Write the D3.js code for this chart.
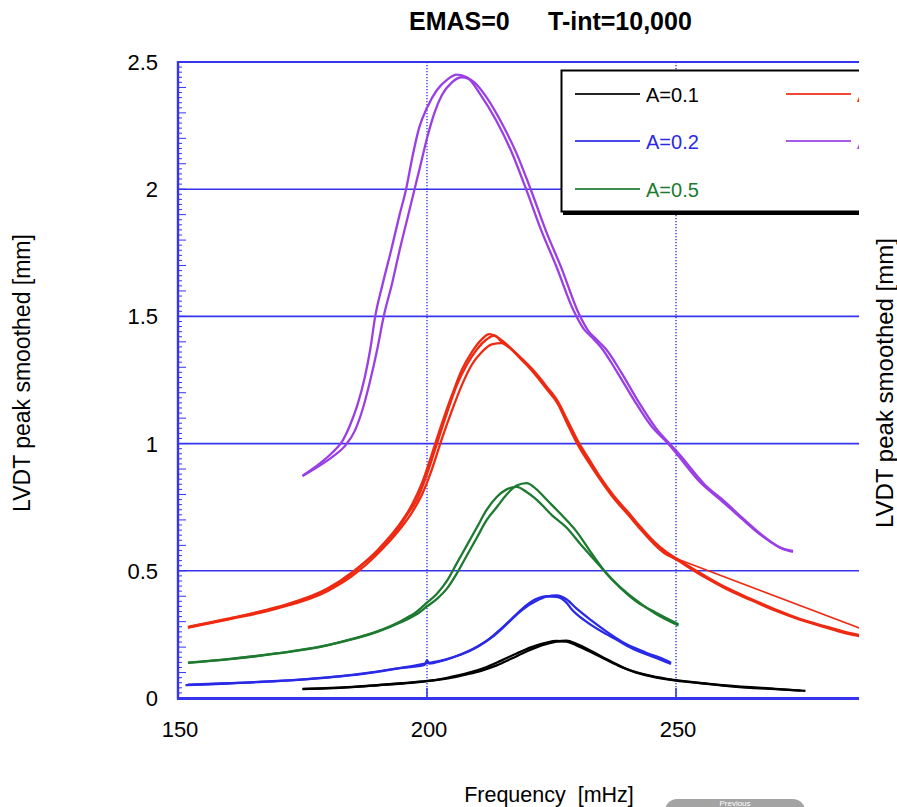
<!DOCTYPE html>
<html><head><meta charset="utf-8">
<script src="https://cdn.jsdelivr.net/npm/d3@7"></script>
<style>html,body{margin:0;padding:0;background:#fff;}svg{display:block;}</style>
</head><body>
<script>
// ---------------- DATA ----------------
const xTicks = [150, 200, 250];
const yTicks = [0, 0.5, 1, 1.5, 2, 2.5];
const yTickLabels = ["0", "0.5", "1", "1.5", "2", "2.5"];
const legendLabels = ["A=0.1", "A=0.2", "A=0.5", "A=1", "A=2"];
const titleParts = ["EMAS=0", "T-int=10,000"];

// A=0.1 sweeps [frequency mHz, LVDT mm]
const a01_sweep1 = [[175,0.035],[180,0.038],[185,0.043],[190,0.05],[195,0.057],[200,0.066],[203,0.075],[206,0.088],[209,0.103],[212,0.122],[215,0.148],[218,0.175],[221,0.2],[224,0.218],[226,0.224],[228,0.222],[230,0.207],[233,0.18],[236,0.15],[239,0.122],[242,0.1],[245,0.085],[250,0.068],[255,0.058],[260,0.048],[265,0.04],[270,0.035],[275,0.029]];
const a01_sweep2 = [[175,0.036],[185,0.044],[195,0.058],[200,0.067],[205,0.08],[208,0.093],[211,0.108],[214,0.128],[217,0.155],[220,0.183],[223,0.207],[226,0.222],[228,0.225],[230,0.213],[233,0.185],[236,0.153],[240,0.115],[245,0.087],[250,0.07],[260,0.05],[270,0.036],[276,0.028]];

// A=0.2 sweeps
const a02_sweep1 = [[151.5,0.051],[155,0.053],[160,0.057],[165,0.062],[170,0.066],[175,0.072],[180,0.08],[185,0.09],[190,0.103],[195,0.118],[199.5,0.13],[200,0.148],[200.5,0.135],[203,0.146],[206,0.165],[209,0.19],[212,0.225],[215,0.275],[218,0.33],[220,0.365],[222,0.39],[224,0.4],[226,0.398],[228,0.375],[229,0.35],[232,0.3],[235,0.262],[238,0.23],[241,0.197],[244,0.172],[247,0.15],[249,0.134]];
const a02_sweep2 = [[152,0.052],[160,0.058],[170,0.067],[180,0.081],[190,0.104],[196,0.122],[200,0.137],[204,0.153],[207,0.173],[210,0.2],[213,0.238],[216,0.29],[219,0.345],[222,0.382],[224,0.398],[226,0.403],[228,0.388],[230,0.352],[233,0.305],[236,0.262],[240,0.212],[244,0.178],[248,0.148],[249,0.138]];

// A=0.5 sweeps
const a05_sweep1 = [[152,0.138],[160,0.152],[170,0.175],[180,0.207],[185,0.232],[190,0.262],[195,0.305],[198,0.34],[200,0.375],[202,0.41],[204,0.46],[206,0.53],[208,0.6],[210,0.67],[212,0.74],[214,0.79],[216,0.82],[218,0.83],[220,0.81],[222,0.78],[225,0.72],[228,0.67],[231,0.6],[234,0.535],[237,0.47],[240,0.415],[243,0.37],[246,0.33],[250.5,0.285]];
const a05_sweep2 = [[152,0.139],[160,0.153],[170,0.176],[180,0.208],[190,0.26],[195,0.3],[198,0.33],[200,0.36],[202,0.39],[204,0.43],[206,0.49],[208,0.56],[210,0.63],[212,0.7],[214,0.75],[216,0.8],[218,0.835],[220,0.845],[222,0.82],[224,0.78],[227,0.72],[230,0.655],[233,0.57],[236,0.49],[239,0.43],[242,0.38],[246,0.335],[250.5,0.29]];

// A=1 sweeps
const a1_sweep1 = [[152,0.278],[155,0.29],[160,0.31],[165,0.332],[170,0.355],[175,0.385],[180,0.425],[185,0.49],[188,0.54],[191,0.59],[194,0.66],[196,0.72],[198,0.78],[200,0.88],[202,1.0],[204,1.12],[206,1.23],[208,1.31],[210,1.37],[212,1.41],[213.5,1.425],[215,1.4],[217,1.37],[219,1.33],[221.5,1.28],[224,1.22],[226.3,1.16],[228,1.09],[230.3,1.0],[232.5,0.93],[234.9,0.86],[237.5,0.79],[240.4,0.727],[243,0.665],[245.6,0.61],[248,0.57],[250.4,0.54],[255,0.483],[260,0.43],[265,0.385],[270,0.343],[275,0.307],[280,0.278],[285,0.25],[288,0.24]];
const a1_sweep2 = [[152,0.276],[160,0.308],[170,0.352],[180,0.42],[185,0.48],[190,0.565],[194,0.65],[197,0.73],[199,0.8],[201,0.9],[203,1.02],[205,1.13],[207,1.23],[209,1.31],[211,1.36],[213,1.39],[215,1.395],[217,1.37],[219,1.335],[221.5,1.285],[224,1.225],[226.3,1.165],[228,1.1],[230.3,1.01],[232.5,0.94],[234.9,0.865],[237.5,0.795],[240.4,0.73],[243,0.67],[245.6,0.615],[248,0.575],[250.4,0.545],[255,0.49],[260,0.435],[265,0.39],[270,0.348],[275,0.31],[280,0.282],[285,0.255],[288,0.243]];
const a1_sweep3 = [[152,0.28],[160,0.312],[170,0.358],[180,0.43],[185,0.495],[190,0.58],[194,0.67],[197,0.76],[199,0.845],[201,0.96],[203,1.08],[205,1.19],[207,1.29],[209,1.36],[211,1.41],[212.5,1.43],[214,1.42],[216,1.39],[218,1.35],[220,1.31],[222,1.265],[224,1.215],[226.3,1.155],[228,1.085],[230.3,0.995],[232.5,0.925],[234.9,0.855],[237.5,0.785],[240.4,0.72],[243,0.66],[245.6,0.605],[248,0.565],[250.4,0.545]];
const a1_tail = [[250.4,0.545],[300,0.178]];

// A=2 sweeps
const a2_sweep1 = [[175,0.873],[177,0.9],[179,0.93],[181,0.965],[183,1.01],[184.5,1.07],[186,1.15],[187.5,1.26],[188.6,1.37],[189.6,1.5],[191,1.62],[192.8,1.76],[194.5,1.9],[195.8,2.0],[197,2.12],[198.4,2.24],[200,2.32],[202,2.39],[204,2.43],[206,2.45],[208,2.44],[210.8,2.37],[213.9,2.27],[216.9,2.15],[219.9,2.0],[222.9,1.84],[225.9,1.7],[229.5,1.52],[231.5,1.45],[233,1.42],[234.9,1.38],[237.9,1.29],[241.6,1.17],[245,1.07],[248.4,1.0],[250,0.963],[255,0.845],[259,0.778],[263,0.708],[267,0.641],[271,0.59],[273.5,0.574]];
const a2_sweep2 = [[175,0.873],[178,0.908],[181,0.948],[183.5,0.99],[185.5,1.05],[187,1.13],[188.5,1.24],[190,1.37],[191.3,1.5],[193,1.63],[194.5,1.76],[196,1.88],[197.5,2.0],[199,2.12],[200,2.2],[201.5,2.3],[203,2.37],[205,2.42],[207,2.44],[209.5,2.42],[212,2.36],[215,2.26],[218,2.14],[221,1.99],[224,1.83],[227,1.69],[230.5,1.51],[232.5,1.44],[234,1.41],[236,1.37],[239,1.28],[242.6,1.16],[246,1.06],[249.2,0.99],[250.8,0.955],[255.8,0.838],[259.8,0.772],[263.6,0.703],[267.5,0.637],[271.3,0.588],[273.5,0.578]];

// ---------------- CHART ----------------
const W = 897, H = 807;
const BLUE = "#3535ee";
const colors = ["#000000", "#2a2ae6", "#1d7a30", "#ee2a12", "#9a3fe6"];
const seriesSweeps = [
  [a01_sweep1, a01_sweep2],
  [a02_sweep1, a02_sweep2],
  [a05_sweep1, a05_sweep2],
  [a1_sweep1, a1_sweep2, a1_sweep3, a1_tail],
  [a2_sweep1, a2_sweep2]
];

const svg = d3.select("body").append("svg").attr("width", W).attr("height", H)
  .style("font-family", "'Liberation Sans', Arial, sans-serif");
svg.append("rect").attr("width", W).attr("height", H).attr("fill", "#fff");

const x = d3.scaleLinear().domain([150, 300]).range([178, 925]);
const y = d3.scaleLinear().domain([0, 2.5]).range([698, 62]);
const cutX = 859;

const defs = svg.append("defs");
defs.append("clipPath").attr("id", "plotclip").append("rect")
  .attr("x", 178).attr("y", 55).attr("width", cutX - 178).attr("height", 650);
defs.append("clipPath").attr("id", "cutclip").append("rect")
  .attr("x", 0).attr("y", 0).attr("width", cutX).attr("height", H);

const plot = svg.append("g").attr("clip-path", "url(#cutclip)");

// horizontal gridlines
plot.append("g").selectAll("line").data(yTicks.filter(d => d > 0 && d < 2.5)).join("line")
  .attr("x1", 178).attr("x2", 925).attr("y1", d => y(d)).attr("y2", d => y(d))
  .attr("stroke", BLUE).attr("stroke-width", 1.6);
// vertical dotted gridlines
plot.append("g").selectAll("line").data(xTicks.filter(d => d > 150)).join("line")
  .attr("x1", d => x(d)).attr("x2", d => x(d)).attr("y1", 62).attr("y2", 698)
  .attr("stroke", BLUE).attr("stroke-width", 1.4).attr("stroke-dasharray", "1.2,1.8");
// small solid ticks at bottom for vertical grid
plot.append("g").selectAll("line").data(xTicks.filter(d => d > 150)).join("line")
  .attr("x1", d => x(d)).attr("x2", d => x(d)).attr("y1", 688).attr("y2", 698)
  .attr("stroke", BLUE).attr("stroke-width", 1.6);
// top border
plot.append("line").attr("x1", 178).attr("x2", 925).attr("y1", y(2.5)).attr("y2", y(2.5))
  .attr("stroke", BLUE).attr("stroke-width", 2.2);
// bottom axis
plot.append("line").attr("x1", 177).attr("x2", 925).attr("y1", 698.5).attr("y2", 698.5)
  .attr("stroke", BLUE).attr("stroke-width", 3);
// left axis
plot.append("line").attr("x1", 178).attr("x2", 178).attr("y1", 61).attr("y2", 699)
  .attr("stroke", BLUE).attr("stroke-width", 2.4);
// minor ticks on left axis
const minor = d3.range(0, 2.5001, 0.02);
plot.append("g").selectAll("line").data(minor).join("line")
  .attr("x1", 178).attr("x2", (d, i) => (i % 5 === 0 ? 186 : 182))
  .attr("y1", d => y(d)).attr("y2", d => y(d))
  .attr("stroke", BLUE).attr("stroke-width", 1);

// curves
const line = d3.line().x(d => x(d[0])).y(d => y(d[1])).curve(d3.curveMonotoneX);
const curves = plot.append("g").attr("clip-path", "url(#plotclip)");
seriesSweeps.forEach((sweeps, si) => {
  curves.append("g").selectAll("path").data(sweeps).join("path")
    .attr("d", line).attr("fill", "none").attr("stroke", colors[si])
    .attr("stroke-width", (d, i) => (si === 3 && i === 3 ? 1.6 : 2.3)).attr("stroke-linejoin", "round");
});

// legend
const lg = plot.append("g");
lg.append("rect").attr("x", 563).attr("y", 73).attr("width", 320).attr("height", 142).attr("fill", "#000");
lg.append("rect").attr("x", 561.5).attr("y", 70.5).attr("width", 320).attr("height", 141)
  .attr("fill", "#fff").attr("stroke", "#000").attr("stroke-width", 2);
const legPos = [
  {lx: 575, ly: 94}, {lx: 575, ly: 141}, {lx: 575, ly: 189},
  {lx: 786, ly: 94}, {lx: 786, ly: 141}
];
legendLabels.forEach((lab, i) => {
  const p = legPos[i];
  lg.append("line").attr("x1", p.lx).attr("x2", p.lx + 65).attr("y1", p.ly).attr("y2", p.ly)
    .attr("stroke", colors[i]).attr("stroke-width", 1.8).attr("opacity", 0.85);
  lg.append("text").attr("x", p.lx + 71).attr("y", p.ly + 7.5).text(lab)
    .attr("fill", colors[i]).attr("font-size", 20);
});

// tick labels
svg.append("g").selectAll("text").data(yTicks).join("text")
  .attr("x", 158).attr("y", d => y(d) + 8).attr("text-anchor", "end")
  .attr("font-size", 22).text((d, i) => yTickLabels[i]);
svg.append("g").selectAll("text").data(xTicks).join("text")
  .attr("x", d => x(d) + 2).attr("y", 737).attr("text-anchor", "middle")
  .attr("font-size", 22).text(d => d);

// title
const t = svg.append("text").attr("y", 30).attr("font-size", 25).attr("font-weight", "bold");
t.append("tspan").attr("x", 409).text(titleParts[0]);
t.append("tspan").attr("x", 548).text(titleParts[1]);

// axis titles
svg.append("text").attr("x", 549).attr("y", 802).attr("text-anchor", "middle")
  .attr("font-size", 21.5).attr("xml:space", "preserve").style("white-space", "pre").text("Frequency  [mHz]");
svg.append("text").attr("transform", "translate(30,373) rotate(-90)").attr("text-anchor", "middle")
  .attr("font-size", 23).text("LVDT peak smoothed [mm]");
svg.append("text").attr("transform", "translate(893,383) rotate(-90)").attr("text-anchor", "middle")
  .attr("font-size", 24).text("LVDT peak smoothed [mm]");

// partially visible grey button at the bottom
svg.append("rect").attr("x", 665).attr("y", 799).attr("width", 140).attr("height", 30).attr("rx", 12).attr("fill", "#a3a3a3");
svg.append("text").attr("x", 735).attr("y", 806).attr("text-anchor", "middle").attr("fill", "#fff")
  .attr("font-size", 8).text("Previous");
</script>
</body></html>
